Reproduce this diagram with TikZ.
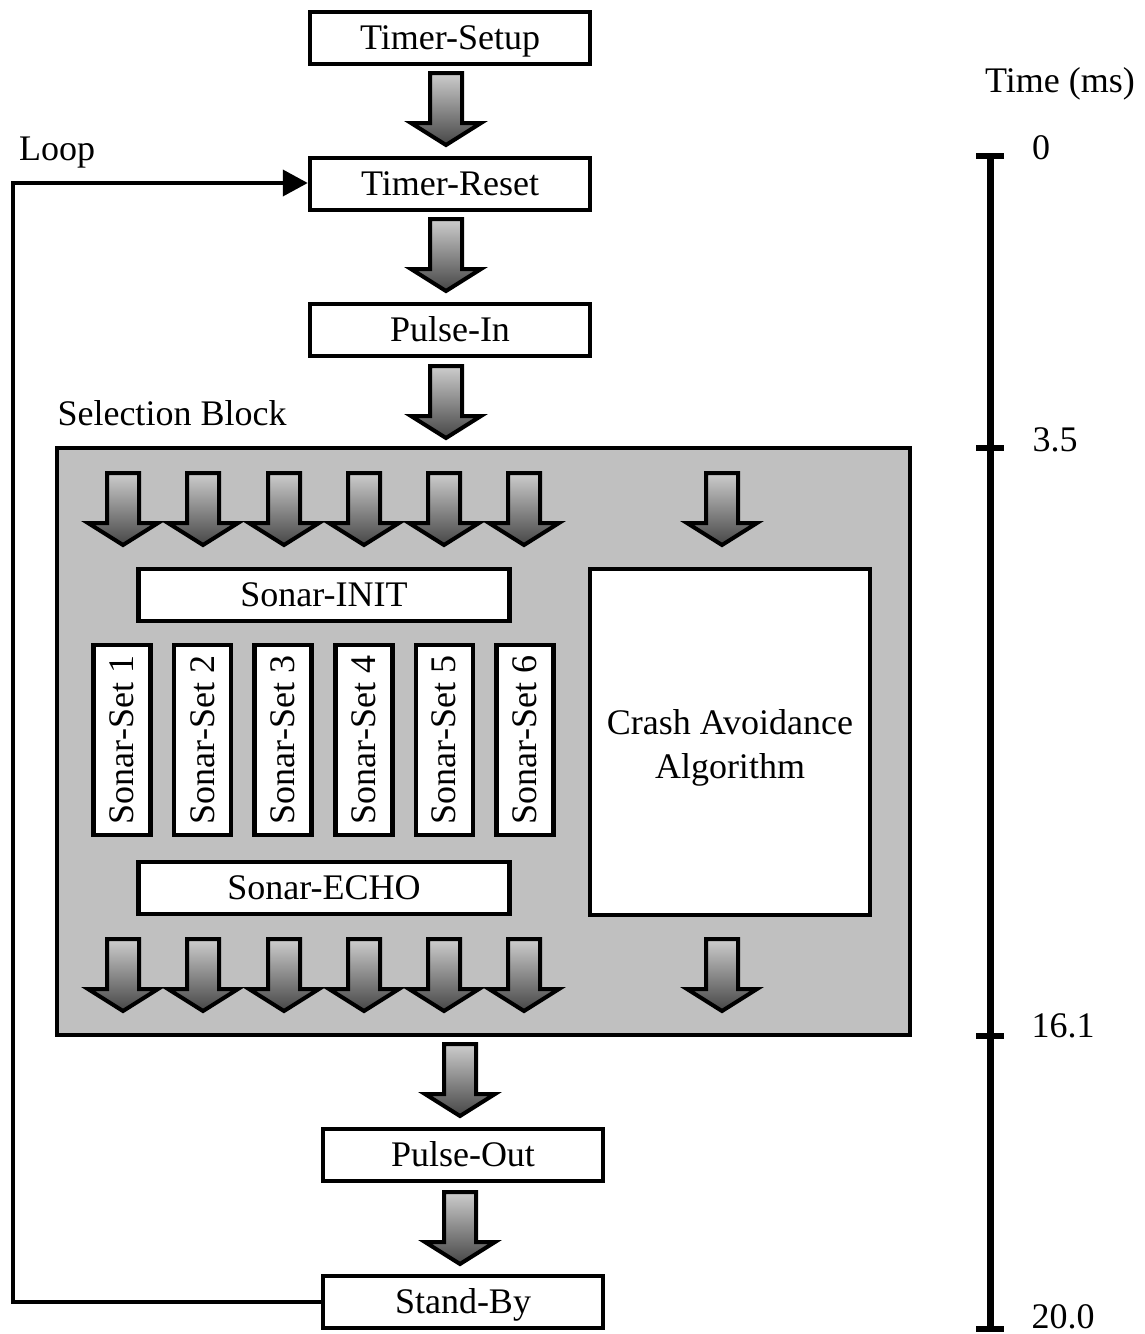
\documentclass[tikz,border=0pt]{standalone}
\usepackage{fontspec}
\setmainfont{Liberation Serif}
\usetikzlibrary{arrows.meta}
\definecolor{blockgray}{RGB}{192,192,192}
\definecolor{shadetop}{RGB}{205,205,205}
\definecolor{shadebot}{RGB}{70,70,70}
\tikzset{
  txt/.style={font=\fontsize{36}{44}\selectfont, inner sep=0pt},
  boxtxt/.style={txt, text height=30pt, text depth=7pt},
  box/.style={boxtxt, draw=black, line width=4.5pt, fill=white, minimum width=280pt, minimum height=52pt},
  inbox/.style={boxtxt, draw=black, line width=4.5pt, fill=white},
  blockarrow/.pic={\path[draw=black, line width=4pt, miter limit=20, top color=shadetop, bottom color=shadebot]
     (-16,0) -- (16,0) -- (16,50) -- (35,50) -- (0,72) -- (-35,50) -- (-16,50) -- cycle;},
  timeline/.style={line width=7pt},
  tick/.style={line width=6.5pt},
  loopline/.style={line width=4pt, -{Triangle[length=25pt,width=26pt]}}
}
\begin{document}
\begin{tikzpicture}[x=1pt, y=-1pt]
\useasboundingbox (0,0) rectangle (1144,1334);

% main column
\node[box] (setup) at (450,38) {Timer-Setup};
\node[box] (reset) at (450,184) {Timer-Reset};
\node[box] (pulsein) at (450,330) {Pulse-In};
\node[box] (pulseout) at (463,1155) {Pulse-Out};
\node[box] (standby) at (463,1302) {Stand-By};

\pic at (446,73) {blockarrow};
\pic at (446,219) {blockarrow};
\pic at (446,366) {blockarrow};
\pic at (460,1044) {blockarrow};
\pic at (460,1192) {blockarrow};

% selection block
\node[txt, anchor=base] (sellabel) at (172,425) {Selection Block};
\node[draw=black, line width=4.5pt, fill=blockgray, minimum width=853pt, minimum height=587pt, inner sep=0pt] (selblock) at (483.5,741.5) {};

\foreach \x in {123,203,284,364,444,524,722} {
  \pic at (\x,473) {blockarrow};
  \pic at (\x,939) {blockarrow};
}

\node[inbox, minimum width=371pt, minimum height=52pt] (init) at (324,595) {Sonar-INIT};
\node[inbox, minimum width=371pt, minimum height=52pt] (echo) at (324,888) {Sonar-ECHO};
\node[draw=black, line width=4.5pt, fill=white, minimum width=280pt, minimum height=346pt] (crash) at (730,742) {};
\node[txt, align=center, anchor=base] (crashtext) at (730,778) {Crash Avoidance\\Algorithm};

\foreach \i/\x in {1/122,2/202.6,3/283.2,4/363.8,5/444.4,6/525} {
  \node[inbox, rotate=90, minimum width=190pt, minimum height=57pt] (set\i) at (\x,740) {Sonar-Set \i};
}

% loop
\coordinate (lb) at (13,1302);
\coordinate (lt) at (13,183);
\node[txt, anchor=base] (looplabel) at (57,160) {Loop};
\draw[loopline] (standby.west) -- (lb) -- (lt) -- (reset.west |- lt);

% timeline
\coordinate (t0) at (990,156);
\coordinate (t1) at (990,448);
\coordinate (t2) at (990,1036);
\coordinate (t3) at (990,1329);
\draw[timeline] (990,153) -- (990,1332);
\foreach \c in {t0,t1,t2,t3} {
  \draw[tick] ([xshift=-14pt]\c) -- ([xshift=14pt]\c);
}
\node[txt, anchor=base] (timelabel) at (1060,92) {Time (ms)};
\node[txt, anchor=base] (l0) at (1041,159) {0};
\node[txt, anchor=base] (l1) at (1055,451) {3.5};
\node[txt, anchor=base] (l2) at (1063,1037) {16.1};
\node[txt, anchor=base] (l3) at (1063,1328) {20.0};
\end{tikzpicture}
\end{document}
